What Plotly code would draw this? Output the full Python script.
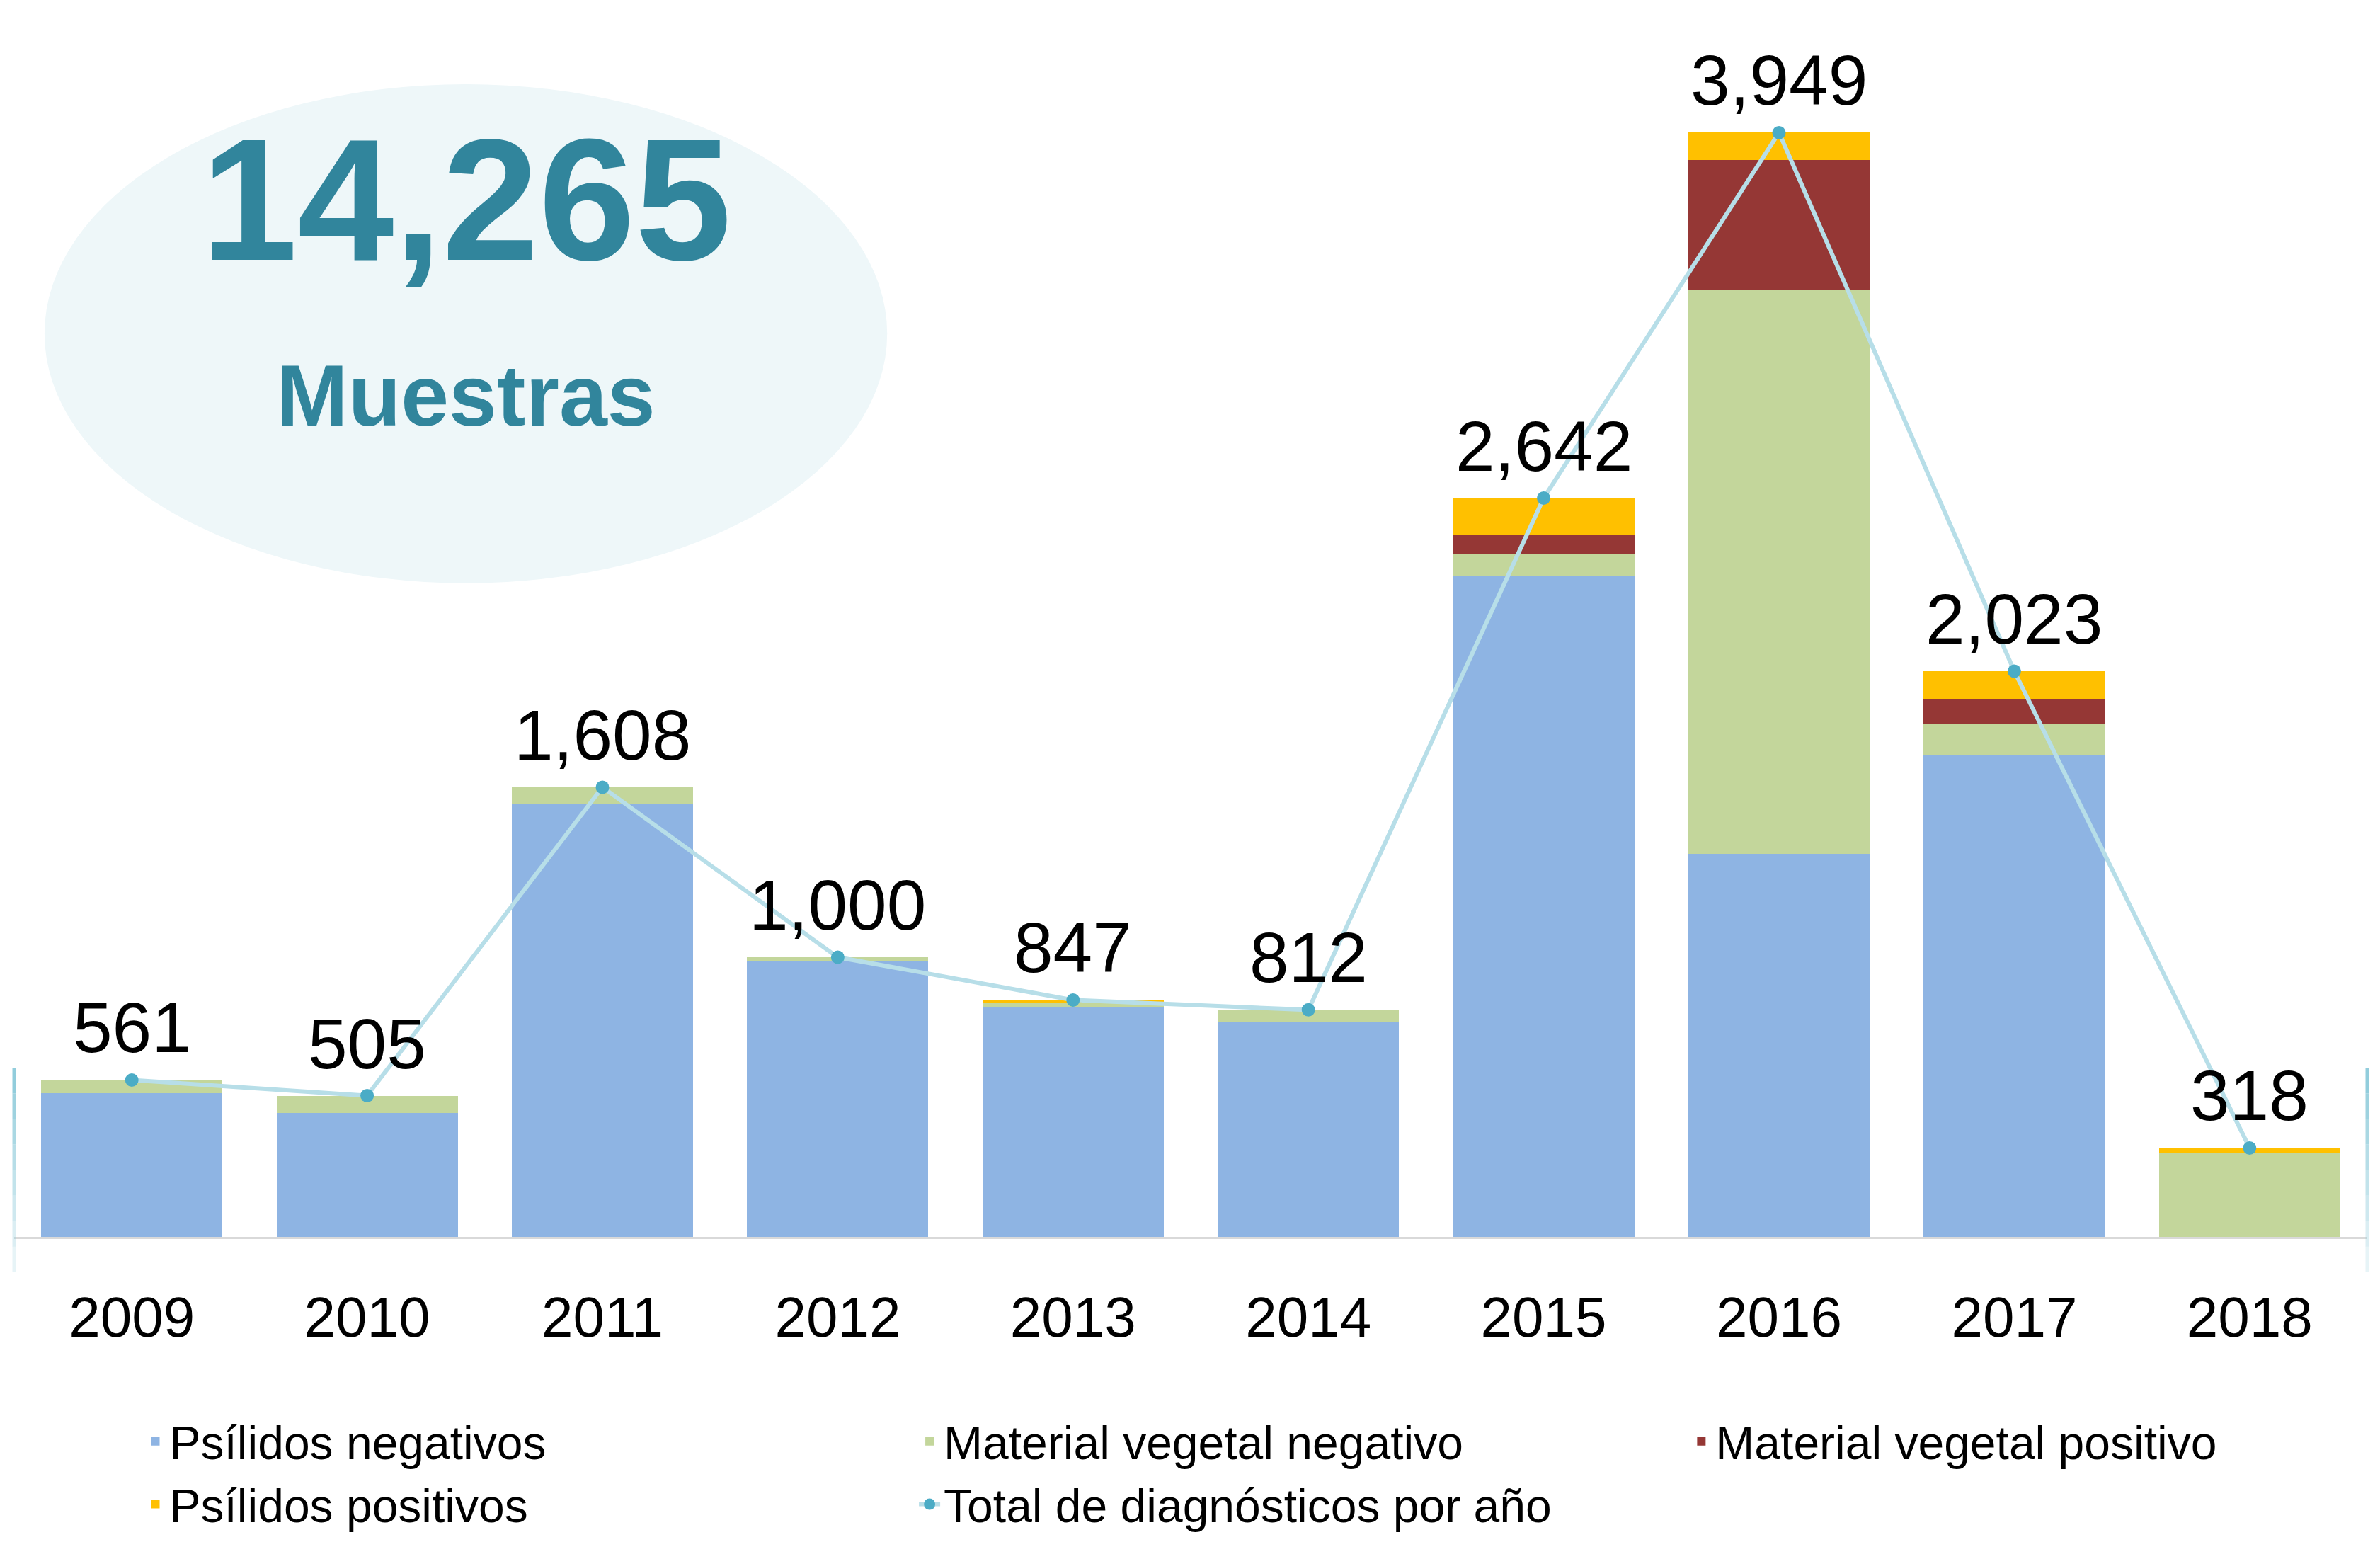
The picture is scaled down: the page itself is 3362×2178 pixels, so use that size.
import plotly.graph_objects as go

years = ["2009", "2010", "2011", "2012", "2013", "2014", "2015", "2016", "2017", "2018"]
psilidos_neg = [514, 444, 1550, 988, 824, 766, 2364, 1371, 1725, 0]
material_neg = [47, 61, 58, 12, 12, 46, 76, 2014, 111, 300]
material_pos = [0, 0, 0, 0, 0, 0, 71, 466, 86, 0]
psilidos_pos = [0, 0, 0, 0, 11, 0, 131, 98, 101, 18]
totales = [561, 505, 1608, 1000, 847, 812, 2642, 3949, 2023, 318]
total_muestras = "14,265"
subtitulo = "Muestras"

FONT = "Liberation Sans, Arial, sans-serif"

fig = go.Figure()
series = [
    ("Psílidos negativos", psilidos_neg, "#8EB4E3", "legend"),
    ("Material vegetal negativo", material_neg, "#C3D69B", "legend2"),
    ("Material vegetal positivo", material_pos, "#953735", "legend3"),
    ("Psílidos positivos", psilidos_pos, "#FFC000", "legend"),
]
for name, vals, col, lg in series:
    fig.add_trace(go.Bar(x=years, y=vals, name=name, legend=lg,
                         marker=dict(color=col, line=dict(width=0))))

fig.add_trace(go.Scatter(x=years, y=totales, name="Total de diagnósticos por año",
                         legend="legend2", mode="lines+markers",
                         line=dict(color="#B7DEE8", width=6),
                         marker=dict(color="#4BACC6", size=19)))

for i, t in enumerate(totales):
    fig.add_annotation(x=i, y=t, xref="x", yref="y", text=f"{t:,}", showarrow=False,
                       xanchor="center", yanchor="bottom", yshift=16,
                       font=dict(family=FONT, size=100, color="black"))

# decorative ellipse with total
fig.add_shape(type="circle", xref="paper", yref="paper",
              x0=0.0129, x1=0.371, y0=0.5634, y1=0.9933,
              fillcolor="#EEF7F9", line=dict(width=0), layer="below")
fig.add_annotation(xref="paper", yref="paper", x=0.192, y=0.894,
                   xanchor="center", yanchor="middle",
                   text=f"<b>{total_muestras}</b>", showarrow=False,
                   font=dict(family=FONT, size=245, color="#31859C"))
fig.add_annotation(xref="paper", yref="paper", x=0.192, y=0.725,
                   xanchor="center", yanchor="middle",
                   text=f"<b>{subtitulo}</b>", showarrow=False,
                   font=dict(family=FONT, size=122, color="#31859C"))

# fading vertical edge lines
n = 8
top, bot = 0.1457, -0.0304
for i in range(n):
    ya = top - (top - bot) * i / n
    yb = top - (top - bot) * (i + 1) / n
    op = 1 - i / n * 0.9
    for xp in (0, 1):
        fig.add_shape(type="line", xref="paper", yref="paper",
                      x0=xp, x1=xp, y0=ya, y1=yb,
                      line=dict(color="#92CDDC", width=5), opacity=op)

legfont = dict(family=FONT, size=66, color="black")
common = dict(orientation="v", xanchor="left", y=-0.146, yanchor="top",
              traceorder="normal", font=legfont, bgcolor="rgba(0,0,0,0)")

fig.update_layout(
    width=3362, height=2178,
    margin=dict(l=12, r=26, t=100, b=431),
    barmode="stack", bargap=0.23,
    plot_bgcolor="white", paper_bgcolor="white",
    font=dict(family=FONT, color="black"),
    showlegend=True,
    legend=dict(x=0.054, **common),
    legend2=dict(x=0.383, **common),
    legend3=dict(x=0.711, **common),
    xaxis=dict(type="category", range=[-0.5, 9.5], showgrid=False, showline=True,
               linecolor="#D9D9D9", linewidth=3, ticks="", ticklabelstandoff=42,
               tickfont=dict(family=FONT, size=80, color="black")),
    yaxis=dict(range=[0, 4150], visible=False, showgrid=False),
)

fig.write_html("out.html")
